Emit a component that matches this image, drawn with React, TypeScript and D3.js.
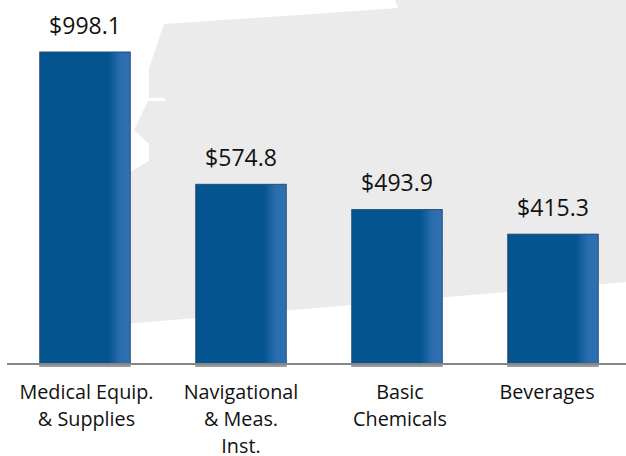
import React from "react";
import * as d3 from "d3";

const categories = ["Medical Equip.|& Supplies", "Navigational|& Meas.|Inst.", "Basic|Chemicals", "Beverages"];
const values = [998.1, 574.8, 493.9, 415.3];
const mapOutline: [number, number][] = [[164,24],[320,13.5],[398,8],[395,0],[626,0],[626,282],[130,323.5],[130,172],[149,161],[149,144],[134,130],[148,101],[165,101],[165,98],[149,98],[149,68]];

const W = 626, H = 456, baseY = 364;
const x = d3.scaleBand<number>().domain(d3.range(categories.length)).range([7, 631]).paddingInner(0.42).paddingOuter(0.21);
const y = d3.scaleLinear().domain([0, 998.1]).range([baseY, 52]);
const money = d3.format("$.1f");
const mapPath = d3.line()(mapOutline) + "Z";
const font = "'Open Sans', sans-serif";
const labelShift = [1.5, 0, 3, -6];

export default function App() {
  return (
    <svg width={W} height={H} viewBox={`0 0 ${W} ${H}`} style={{ position: "absolute", left: 0, top: 0, background: "#fff" }}>
      <defs>
        <linearGradient id="bar" x1="0" x2="1" y1="0" y2="0">
          <stop offset="0" stopColor="#0a4f86" />
          <stop offset="0.03" stopColor="#04558f" />
          <stop offset="0.76" stopColor="#04558f" />
          <stop offset="0.88" stopColor="#2a6cae" />
          <stop offset="1" stopColor="#2f70b2" />
        </linearGradient>
      </defs>
      <path d={mapPath} fill="#ebebeb" />
      {values.map((v, i) => (
        <g key={i}>
          <rect x={x(i)! - 0.5} y={baseY} width={x.bandwidth() + 1} height={3} fill="#9a9a9a" />
          <rect x={x(i)!} y={y(v)} width={x.bandwidth()} height={baseY - y(v)} fill="url(#bar)" stroke="#1f4e79" strokeWidth={1} />
          <text x={x(i)! + x.bandwidth() / 2} y={y(v) - 18.5} textAnchor="middle" fontFamily={font} fontSize={23} fill="#111">{money(v)}</text>
        </g>
      ))}
      <line x1={7} x2={W} y1={baseY} y2={baseY} stroke="#868686" strokeWidth={2} />
      {categories.map((c, i) => (
        <text key={c} textAnchor="middle" fontFamily={font} fontSize={19.8} fill="#111">
          {c.split("|").map((line, j) => (
            <tspan key={j} x={x(i)! + x.bandwidth() / 2 + labelShift[i]} y={399 + j * 27}>{line}</tspan>
          ))}
        </text>
      ))}
    </svg>
  );
}
